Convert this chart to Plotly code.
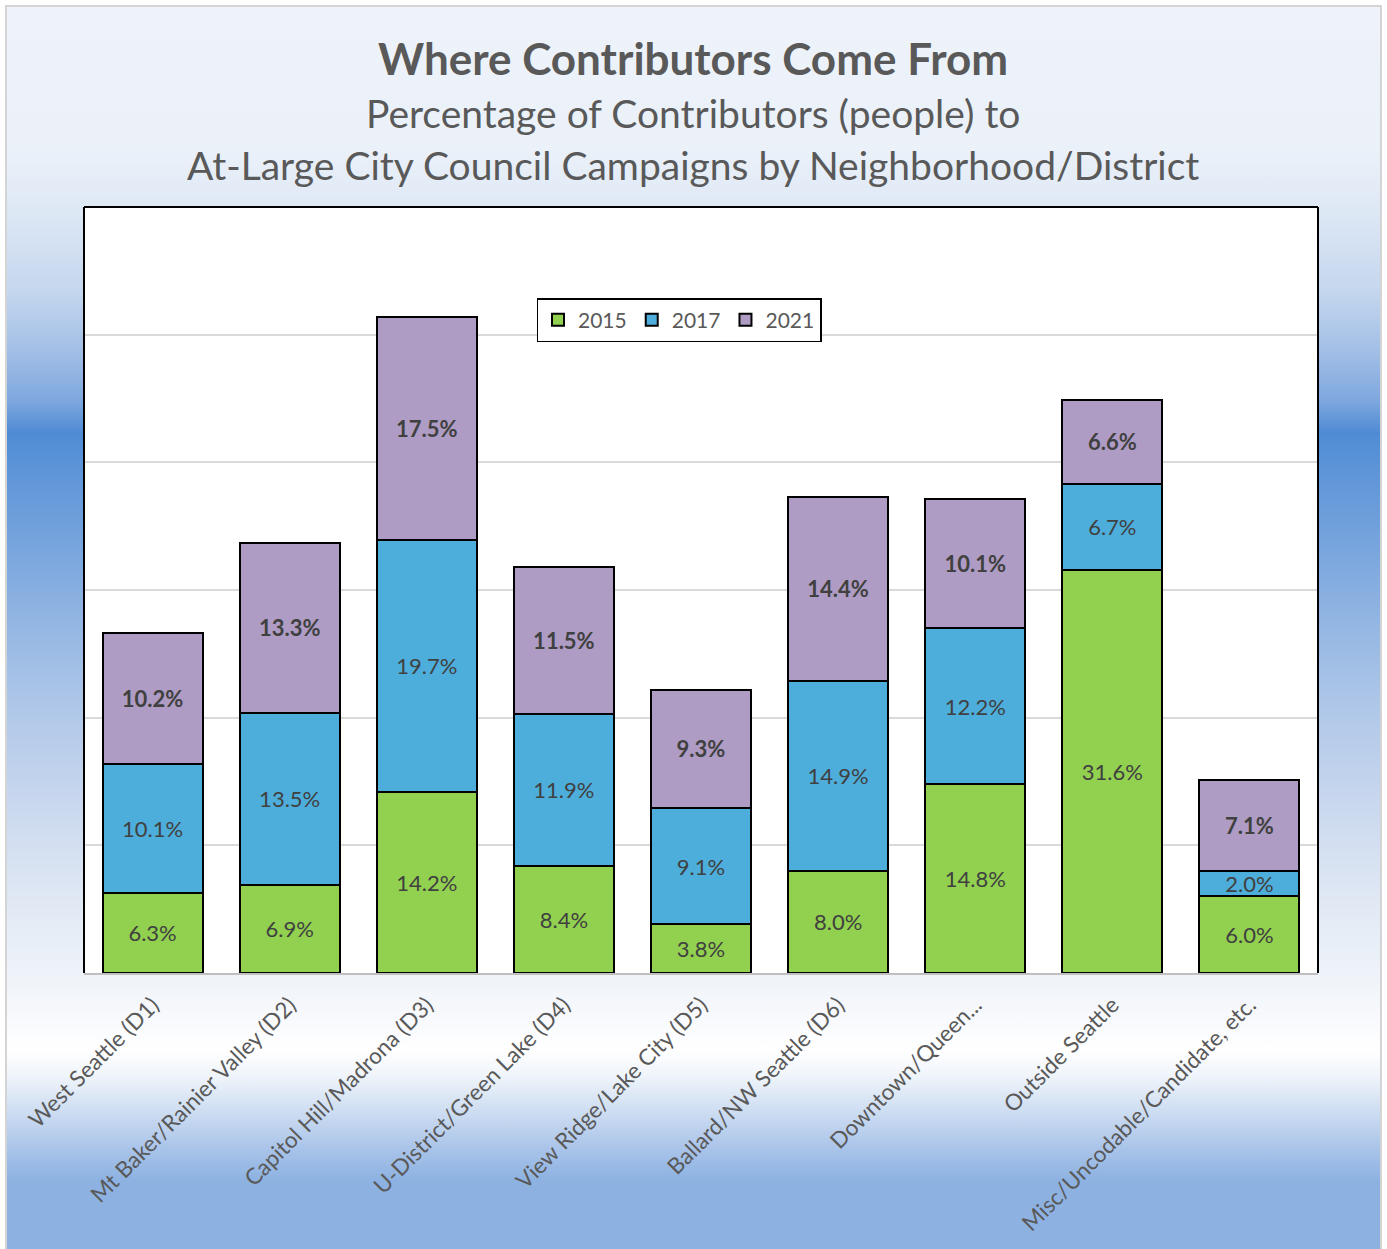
import base64
import plotly.graph_objects as go

# ---------------- data ----------------
categories = [
    "West Seattle (D1)",
    "Mt Baker/Rainier Valley (D2)",
    "Capitol Hill/Madrona (D3)",
    "U-District/Green Lake (D4)",
    "View Ridge/Lake City (D5)",
    "Ballard/NW Seattle (D6)",
    "Downtown/Queen...",
    "Outside Seattle",
    "Misc/Uncodable/Candidate, etc.",
]
v2015 = [6.3, 6.9, 14.2, 8.4, 3.8, 8.0, 14.8, 31.6, 6.0]
v2017 = [10.1, 13.5, 19.7, 11.9, 9.1, 14.9, 12.2, 6.7, 2.0]
v2021 = [10.2, 13.3, 17.5, 11.5, 9.3, 14.4, 10.1, 6.6, 7.1]
series_names = ["2015", "2017", "2021"]

# ---------------- layout geometry ----------------
W, H = 1387, 1249
L, R, T, B = 84, 1318, 207, 973          # plot area in px
PW, PH = R - L, B - T

def px_x(x):
    return (x - L) / PW

def px_y(y):
    return (B - y) / PH

FONT = "Lato"
TXT = "#595959"
colors = ["#92d050", "#4eaedb", "#ae9cc4"]

fig = go.Figure()
for name, vals, col, bold in zip(series_names, [v2015, v2017, v2021], colors, [False, False, True]):
    tmpl = "<b>%{y:.1f}%</b>" if bold else "%{y:.1f}%"
    fig.add_trace(go.Bar(
        name=name, x=categories, y=vals,
        marker=dict(color=col, line=dict(color="#000000", width=2)),
        texttemplate=tmpl, textposition="inside", insidetextanchor="middle",
        textangle=0, textfont=dict(family=FONT, size=22, color="#404040"),
        hoverinfo="skip",
    ))

# ---------------- background gradient (decorative) ----------------
stops = [
    (6, "#eef3fa"), (150, "#ebf1f9"), (220, "#dbe6f4"), (290, "#c5d7ee"),
    (350, "#a3bfe6"), (400, "#7fa8de"), (433, "#4f8bd4"), (470, "#5e95d8"),
    (520, "#6e9fdb"), (600, "#8bb1e1"), (700, "#adc6e8"), (800, "#c8d7ee"),
    (900, "#e0e8f4"), (973, "#eef3f9"), (1010, "#f6f8fc"), (1050, "#ffffff"),
    (1075, "#f0f5fb"), (1110, "#cfdef2"), (1150, "#a8c3e9"), (1180, "#8db2e1"),
    (1249, "#8db2e1"),
]
gx0, gx1, gy0, gy1 = 6, 1381, 6, 1249
stop_xml = "".join(
    f"<stop offset='{(y - gy0) / (gy1 - gy0):.4f}' stop-color='{c}'/>" for y, c in stops
)
svg = (
    f"<svg xmlns='http://www.w3.org/2000/svg' width='{gx1-gx0}' height='{gy1-gy0}' "
    f"preserveAspectRatio='none'><defs><linearGradient id='g' x1='0' y1='0' x2='0' y2='1'>"
    f"{stop_xml}</linearGradient></defs><rect x='0' y='0' width='{gx1-gx0}' height='{gy1-gy0}' fill='url(#g)'/></svg>"
)
uri = "data:image/svg+xml;base64," + base64.b64encode(svg.encode()).decode()

fig.add_layout_image(dict(
    source=uri, xref="paper", yref="paper",
    x=px_x(gx0), y=px_y(gy0), sizex=(gx1 - gx0) / PW, sizey=(gy1 - gy0) / PH,
    xanchor="left", yanchor="top", sizing="stretch", layer="below",
))

# white plot area over the gradient (below gridlines)
fig.add_shape(type="rect", xref="paper", yref="paper", x0=0, x1=1, y0=0, y1=1,
              fillcolor="#ffffff", line=dict(width=0), layer="below")

# outer light border
fig.add_shape(type="rect", xref="paper", yref="paper",
              x0=px_x(gx0), x1=px_x(gx1), y0=px_y(gy1 + 5), y1=px_y(gy0),
              line=dict(color="#d4d4d4", width=2), fillcolor="rgba(0,0,0,0)", layer="above")
# plot area black border (left, top, right)
for x0, y0, x1, y1 in [(0, 0, 0, 1), (0, 1, 1, 1), (1, 0, 1, 1)]:
    fig.add_shape(type="line", xref="paper", yref="paper", x0=x0, y0=y0, x1=x1, y1=y1,
                  line=dict(color="#000000", width=2), layer="above")

# titles
cx = px_x(693)
fig.add_annotation(text="<b>Where Contributors Come From</b>", xref="paper", yref="paper",
                   x=cx, y=px_y(58), xanchor="center", yanchor="middle", showarrow=False,
                   font=dict(family=FONT, size=44, color=TXT))
fig.add_annotation(text="Percentage of Contributors (people) to", xref="paper", yref="paper",
                   x=cx, y=px_y(113), xanchor="center", yanchor="middle", showarrow=False,
                   font=dict(family=FONT, size=39, color=TXT))
fig.add_annotation(text="At-Large City Council Campaigns by Neighborhood/District", xref="paper", yref="paper",
                   x=cx, y=px_y(165), xanchor="center", yanchor="middle", showarrow=False,
                   font=dict(family=FONT, size=39, color=TXT))

fig.update_layout(
    width=W, height=H,
    margin=dict(l=L, r=W - R, t=T, b=H - B, pad=0),
    barmode="stack", bargap=0.27,
    paper_bgcolor="#ffffff", plot_bgcolor="#ffffff",
    font=dict(family=FONT, color=TXT),
    uniformtext=dict(minsize=22, mode="show"),
    showlegend=True,
    legend=dict(
        orientation="h", x=px_x(679), y=px_y(298), xanchor="center", yanchor="top",
        bgcolor="#ffffff", bordercolor="#000000", borderwidth=1.5,
        font=dict(family=FONT, size=21, color=TXT),
        traceorder="normal",
    ),
    xaxis=dict(
        showline=True, linecolor="#bfbfbf", linewidth=2, ticks="",
        tickangle=-45, tickfont=dict(family=FONT, size=22.5, color=TXT),
        ticklabelstandoff=8, showgrid=False,
    ),
    yaxis=dict(
        range=[0, 60], dtick=10, showticklabels=False, ticks="",
        showgrid=True, gridcolor="#d9d9d9", gridwidth=1.5, zeroline=False, showline=False,
    ),
)

fig.write_html("out.html", config={"displayModeBar": False},
               post_script="document.body.style.margin='0';")
